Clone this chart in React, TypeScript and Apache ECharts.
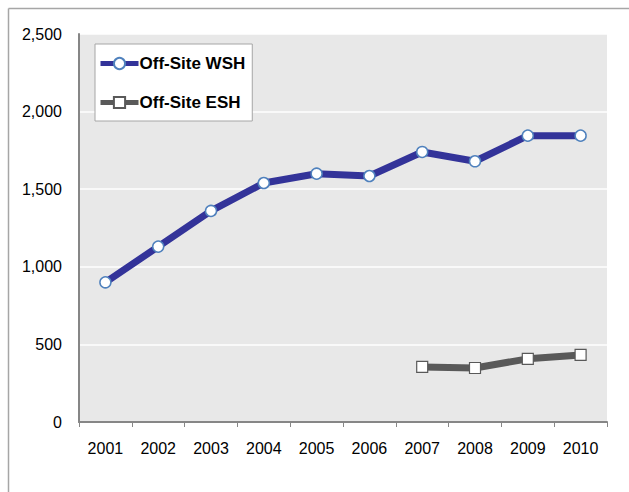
import React, { useEffect, useRef } from "react";
import * as echarts from "echarts";

const years = ["2001", "2002", "2003", "2004", "2005", "2006", "2007", "2008", "2009", "2010"];
const wshValues = [900, 1130, 1360, 1540, 1600, 1585, 1740, 1680, 1845, 1845];
const eshValues: (number | null)[] = [null, null, null, null, null, null, 355, 348, 407, 432];
const yTicks = { min: 0, max: 2500, interval: 500 };

export default function App() {
  const ref = useRef<HTMLDivElement>(null);
  useEffect(() => {
    const chart = echarts.init(ref.current!, null, { renderer: "svg" });
    chart.setOption({
      animation: false,
      backgroundColor: "#ffffff",
      textStyle: { fontFamily: "Liberation Sans, Arial, sans-serif" },
      grid: {
        left: 79,
        top: 34,
        right: 22,
        bottom: 70,
        show: true,
        backgroundColor: "#e8e8e8",
        borderWidth: 0,
      },
      graphic: [
        { type: "line", shape: { x1: 8.5, y1: 8.5, x2: 640, y2: 8.5 }, style: { stroke: "#a6a6a6", lineWidth: 1.5 }, z: 100 },
        { type: "line", shape: { x1: 8.5, y1: 8.5, x2: 8.5, y2: 500 }, style: { stroke: "#a6a6a6", lineWidth: 1.5 }, z: 100 },
      ],
      legend: {
        left: 95,
        top: 44,
        orient: "vertical",
        backgroundColor: "#ffffff",
        borderColor: "#a6a6a6",
        borderWidth: 1,
        borderRadius: 0,
        padding: [11, 7, 10, 3],
        itemWidth: 38,
        itemHeight: 14,
        itemGap: 22,
        lineStyle: { width: 5 },
        textStyle: { fontSize: 17, fontWeight: "bold", color: "#000000", padding: [0, 0, 0, -4] },
        data: ["Off-Site WSH", "Off-Site ESH"],
      },
      xAxis: {
        type: "category",
        data: years,
        boundaryGap: true,
        axisLine: { show: true, lineStyle: { color: "#868686", width: 2 } },
        axisTick: { show: true, length: 5, lineStyle: { color: "#868686", width: 1 } },
        axisLabel: { fontSize: 16, color: "#000000", margin: 18 },
        splitLine: { show: false },
      },
      yAxis: {
        type: "value",
        min: yTicks.min,
        max: yTicks.max,
        interval: yTicks.interval,
        axisLine: { show: true, lineStyle: { color: "#868686", width: 2 } },
        axisTick: { show: false },
        axisLabel: {
          fontSize: 16,
          color: "#000000",
          margin: 17,
          formatter: (v: number) => v.toLocaleString("en-US"),
        },
        splitLine: { show: true, lineStyle: { color: "#ffffff", width: 1.5 } },
      },
      series: [
        {
          name: "Off-Site WSH",
          type: "line",
          data: wshValues,
          symbol: "circle",
          symbolSize: 11,
          lineStyle: { color: "#333399", width: 7 },
          itemStyle: { color: "#ffffff", borderColor: "#4f81bd", borderWidth: 1.5 },
          z: 3,
        },
        {
          name: "Off-Site ESH",
          type: "line",
          data: eshValues,
          symbol: "rect",
          symbolSize: 11,
          lineStyle: { color: "#595959", width: 7 },
          itemStyle: { color: "#ffffff", borderColor: "#595959", borderWidth: 1.2 },
          z: 3,
        },
      ],
    });
    return () => chart.dispose();
  }, []);
  return (
    <div
      ref={ref}
      style={{ position: "absolute", left: 0, top: 0, width: 629, height: 492 }}
    />
  );
}
